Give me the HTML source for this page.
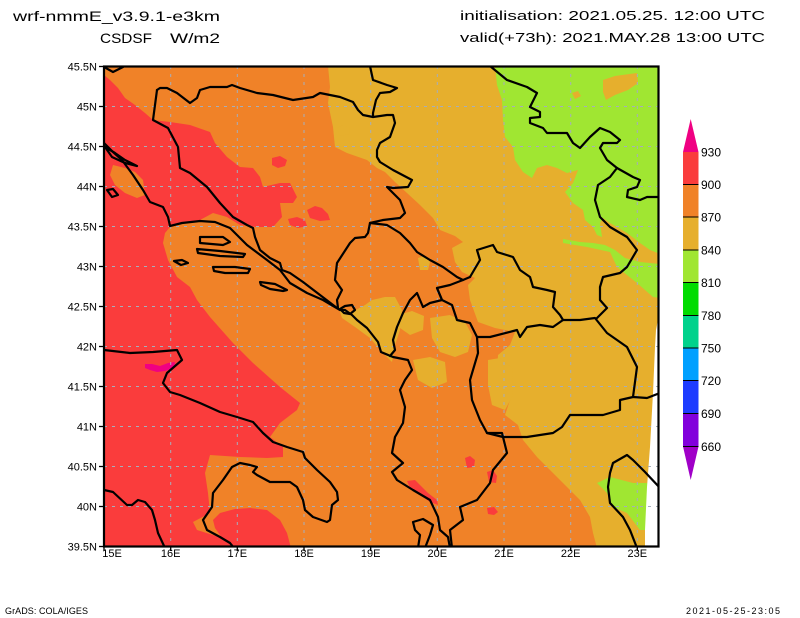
<!DOCTYPE html>
<html><head><meta charset="utf-8"><style>
html,body{margin:0;padding:0;background:#fff;}
svg{display:block;}
text{font-family:"Liberation Sans",Arial,sans-serif;fill:#000;}
</style></head><body>
<svg width="800" height="618" viewBox="0 0 800 618" xmlns="http://www.w3.org/2000/svg">
<defs><clipPath id="mc"><rect x="104" y="66.5" width="554.5" height="480"/></clipPath></defs>
<rect width="800" height="618" fill="#fff"/>

<!-- Titles -->
<text x="13" y="21" font-size="14" textLength="207" lengthAdjust="spacingAndGlyphs">wrf-nmmE_v3.9.1-e3km</text>
<text x="100" y="43" font-size="14" textLength="52" lengthAdjust="spacingAndGlyphs">CSDSF</text>
<text x="170" y="43" font-size="14" textLength="50" lengthAdjust="spacingAndGlyphs">W/m2</text>
<text x="460" y="20" font-size="13" textLength="305" lengthAdjust="spacingAndGlyphs">initialisation: 2021.05.25. 12:00 UTC</text>
<text x="460" y="42" font-size="13" textLength="305" lengthAdjust="spacingAndGlyphs">valid(+73h): 2021.MAY.28 13:00 UTC</text>

<g clip-path="url(#mc)">
<rect x="104" y="66" width="556" height="482" fill="#F08228"/>
<!-- red west -->
<polygon fill="#FA3C3C" points="104,75 110,80 118,88 125,98 135,105 145,113 153,120 170,122 190,125 210,132 215,143 227,157 240,167 253,168 260,177 263,187 280,183 290,183 297,197 293,203 280,203 282,217 273,227 257,227 240,225 227,217 213,213 200,220 180,223 170,227 165,233 163,243 168,260 177,277 190,287 197,300 210,317 233,343 253,363 280,387 300,403 297,410 280,423 270,437 283,447 283,457 267,458 240,457 210,455 205,473 208,493 210,513 193,522 197,530 213,535 222,538 215,528 213,520 220,513 235,509 250,508 267,510 280,520 287,533 291,548 104,548"/>
<polygon fill="#F08228" points="113,165 125,168 135,172 143,180 145,195 137,198 125,193 115,185 110,175"/>
<!-- red blobs north -->
<polygon fill="#FA3C3C" points="272,158 280,156 287,160 285,166 278,168 272,165"/>
<polygon fill="#FA3C3C" points="307,210 315,206 322,208 328,214 330,220 320,221 310,218"/>
<polygon fill="#FA3C3C" points="288,219 297,217 305,220 307,226 298,228 290,225"/>
<!-- magenta blob -->
<polygon fill="#F00082" points="145,364 152,364 160,366 168,363 175,362 174,368 165,371 157,372 150,370 145,368"/>
<!-- yellow main -->
<polygon fill="#E6AF2D" points="328,66 660,66 660,548 597,548 593,533 590,517 580,500 567,487 553,473 537,457 523,440 518,425 505,415 510,400 505,390 497,375 498,355 510,345 515,332 495,328 478,322 470,300 468,285 475,278 462,272 455,262 452,248 463,242 455,236 440,230 433,218 420,205 407,193 395,182 385,172 377,168 367,160 347,153 335,147 333,127 328,103 330,87"/>
<polygon fill="#E6AF2D" points="337,128 343,125 350,128 349,134 340,136"/>
<polygon fill="#E6AF2D" points="338,306 352,312 365,305 372,300 385,297 395,297 402,310 400,330 395,345 392,362 382,352 370,338 355,327 342,318"/>
<polygon fill="#E6AF2D" points="430,318 450,315 465,322 472,335 468,352 455,357 440,352 432,338"/>
<polygon fill="#E6AF2D" points="413,360 430,357 445,362 447,382 432,388 418,380"/>
<polygon fill="#E6AF2D" points="398,315 412,311 424,316 423,330 410,335 400,328"/>
<polygon fill="#E6AF2D" points="488,360 500,358 512,368 513,395 505,410 492,405 488,385"/>
<polygon fill="#E6AF2D" points="418,258 425,256 430,262 428,270 420,270"/>
<!-- green -->
<polygon fill="#A0E632" points="495,66 660,66 660,254 650,250 640,243 627,233 610,223 603,218 600,223 602,237 597,235 593,227 585,220 583,210 573,203 565,192 573,183 578,170 567,173 557,168 547,165 537,168 532,178 523,172 515,160 513,147 505,137 503,120 502,100 497,85"/>
<polygon fill="#A0E632" points="563,239 580,242 593,243 605,245 615,250 625,258 640,262 660,264 660,298 653,297 637,283 617,267 610,252 587,247 563,243"/>
<polygon fill="#E6AF2D" points="603,80 615,76 637,73 638,83 628,90 615,95 606,100 603,92"/>
<polygon fill="#E6AF2D" points="572,93 578,91 581,96 575,99"/>
<polygon fill="#A0E632" points="597,483 610,477 633,483 650,483 650,530 640,530 627,513 613,507 607,493"/>
<!-- red blobs albania -->
<polygon fill="#FA3C3C" points="465,458 470,456 475,460 474,467 467,468"/>
<polygon fill="#FA3C3C" points="487,472 493,470 497,476 496,483 489,482"/>
<polygon fill="#FA3C3C" points="407,481 415,480 422,487 428,493 437,500 438,505 430,502 420,495 410,488"/>
<polygon fill="#FA3C3C" points="487,508 494,507 498,512 494,515 488,514"/>
<!-- white no-data edge -->
<polygon fill="#FFFFFF" points="660,310 656,330 655,347 653,393 650,447 647,487 645,530 645,548 660,548"/>

<!-- grid -->
<g stroke="#A6AEBB" stroke-width="1" stroke-dasharray="3 5" fill="none">
<line x1="170.7" y1="66" x2="170.7" y2="547"/>
<line x1="237.3" y1="66" x2="237.3" y2="547"/>
<line x1="304" y1="66" x2="304" y2="547"/>
<line x1="370.7" y1="66" x2="370.7" y2="547"/>
<line x1="437.3" y1="66" x2="437.3" y2="547"/>
<line x1="504" y1="66" x2="504" y2="547"/>
<line x1="570.7" y1="66" x2="570.7" y2="547"/>
<line x1="637.3" y1="66" x2="637.3" y2="547"/>
<line x1="104" y1="106.5" x2="659" y2="106.5"/>
<line x1="104" y1="146.5" x2="659" y2="146.5"/>
<line x1="104" y1="186.5" x2="659" y2="186.5"/>
<line x1="104" y1="226.5" x2="659" y2="226.5"/>
<line x1="104" y1="266.5" x2="659" y2="266.5"/>
<line x1="104" y1="306.5" x2="659" y2="306.5"/>
<line x1="104" y1="346.5" x2="659" y2="346.5"/>
<line x1="104" y1="386.5" x2="659" y2="386.5"/>
<line x1="104" y1="426.5" x2="659" y2="426.5"/>
<line x1="104" y1="466.5" x2="659" y2="466.5"/>
<line x1="104" y1="506.5" x2="659" y2="506.5"/>
</g>

<!-- coastlines & borders -->
<g stroke="#000" stroke-width="2.2" fill="none" stroke-linejoin="round" stroke-linecap="round">
<polyline points="104,350 130,353 153,352 177,350 182,360 167,373 163,383 170,392 180,395 200,403 220,412 237,417 253,422 263,433 273,442 287,447 303,452 305,458 317,470 330,482 337,492 338,500 332,505 330,520 327,522 313,517 305,510 303,500 297,487 290,482 270,482 257,475 253,472 257,467 250,465 240,463 232,467 223,480 213,493 212,507 203,520 207,530 220,537 230,543 234,548"/>
<polyline points="104,490 113,492 127,505 132,505 138,500 145,502 152,510 155,520 158,533 165,548"/>
<polyline points="104,67 113,72 123,67"/>
<polyline points="104,143 113,152 122,160 133,175 143,190 150,202 163,207 168,217 170,226 182,223 200,221 215,222 230,228 247,245 267,260 280,270 290,283 307,293 323,300 340,310 345,310 352,315 357,320 367,328 378,342 381,352 393,357 408,360 412,370 405,380 400,390 405,407 403,423 395,437 392,453 403,463 392,472 397,480 413,490 430,500 438,517 440,530 448,537 450,548"/>
<polyline points="157,90 153,120 168,128 178,147 180,168 190,173 207,187 220,203 233,217 247,225 253,228 255,237 260,250 270,258 280,263 282,270 290,273 303,282 320,295 337,308"/>
<polyline points="157,90 160,88 167,88 177,93 190,103 197,98 200,90 210,87 227,87 232,85 240,88 257,93 273,95 293,100 313,97 320,93 330,95 340,97 353,102 358,110 363,115 373,117 387,115 393,115 395,123 390,137 380,143 377,150 377,157 380,162 393,170 412,180 408,187 393,188 387,187 400,200 405,213 400,218 383,220 370,223 368,233 365,237 355,238 350,243 337,263 335,280 342,290 337,300 338,308"/>
<polyline points="370,66 373,80 387,85 397,88 390,92 380,93 376,100 373,113 373,117"/>
<polyline points="370,223 387,225 400,233 410,243 417,252 430,260 443,267 457,277 463,280 470,277"/>
<polyline points="463,280 450,285 437,288 442,300 430,303 423,307 417,293 410,300 403,313 397,327 393,340 395,350 390,356"/>
<polyline points="437,288 442,300 452,305 457,320 470,323 477,337 478,353 470,380 472,400 480,420 487,433 502,433 507,453 493,470 490,483 477,500 460,507 463,520 450,530 452,548"/>
<polyline points="470,277 480,260 477,250 493,245 497,252 513,257 520,270 530,277 533,287 547,290 555,292 553,307 560,315 563,320"/>
<polyline points="477,337 490,337 517,330 520,337 527,327 540,325 553,327 563,320 580,320 595,318 607,333 627,347 637,367 633,397 620,400 620,410 603,415 587,415 570,415 562,427 553,433 540,435 527,437 503,437 487,433"/>
<polyline points="617,168 610,177 598,185 595,200 600,217 610,227 627,237 637,250 627,267 620,273 603,277 600,287 600,300 607,308 597,318"/>
<polyline points="490,66 507,80 527,87 537,93 530,107 540,112 540,117 530,118 530,123 543,128 547,133 567,133 573,143 580,148 590,137 600,128 610,132 620,140 617,143 603,143 600,148 607,160 617,168 633,177 640,180 637,187 628,190 627,197 640,200 647,197 660,197"/>
<polyline points="633,397 647,398 660,393"/>
<polyline points="660,488 645,472 633,460 627,455 613,463 610,473 608,487 610,503 623,517 630,530 637,548"/>
<polygon points="413,522 423,519 433,525 430,535 425,548 418,548 420,535 415,530"/>
<polygon points="105,147 115,153 125,160 137,166 125,163 112,157"/>
<polygon points="107,190 113,189 118,195 112,197"/>
<polygon points="200,237 223,237 230,242 223,245 200,243"/>
<polygon points="197,249 220,251 245,254 243,257 220,256 198,253"/>
<polygon points="213,267 235,267 250,269 248,273 225,273 214,271"/>
<polygon points="260,282 275,284 287,290 283,291 270,289 261,285"/>
<polygon points="174,261 182,260 188,263 181,265"/>
<polygon points="340,309 345,306 352,305 355,310 350,314 344,313"/>
</g>
</g>

<!-- frame -->
<rect x="104" y="66.5" width="554.5" height="480" fill="none" stroke="#000" stroke-width="2.2"/>
<!-- ticks -->
<g stroke="#000" stroke-width="1.3">
<line x1="99" y1="66.5" x2="104" y2="66.5"/><line x1="99" y1="106.5" x2="104" y2="106.5"/>
<line x1="99" y1="146.5" x2="104" y2="146.5"/><line x1="99" y1="186.5" x2="104" y2="186.5"/>
<line x1="99" y1="226.5" x2="104" y2="226.5"/><line x1="99" y1="266.5" x2="104" y2="266.5"/>
<line x1="99" y1="306.5" x2="104" y2="306.5"/><line x1="99" y1="346.5" x2="104" y2="346.5"/>
<line x1="99" y1="386.5" x2="104" y2="386.5"/><line x1="99" y1="426.5" x2="104" y2="426.5"/>
<line x1="99" y1="466.5" x2="104" y2="466.5"/><line x1="99" y1="506.5" x2="104" y2="506.5"/>
<line x1="99" y1="546.5" x2="104" y2="546.5"/>
<line x1="104" y1="546.5" x2="104" y2="551"/><line x1="170.7" y1="546.5" x2="170.7" y2="551"/>
<line x1="237.3" y1="546.5" x2="237.3" y2="551"/><line x1="304" y1="546.5" x2="304" y2="551"/>
<line x1="370.7" y1="546.5" x2="370.7" y2="551"/><line x1="437.3" y1="546.5" x2="437.3" y2="551"/>
<line x1="504" y1="546.5" x2="504" y2="551"/><line x1="570.7" y1="546.5" x2="570.7" y2="551"/>
<line x1="637.3" y1="546.5" x2="637.3" y2="551"/>
</g>
<!-- lat labels -->
<g font-size="11" text-anchor="end">
<text x="97" y="70.5">45.5N</text>
<text x="97" y="110.5">45N</text>
<text x="97" y="150.5">44.5N</text>
<text x="97" y="190.5">44N</text>
<text x="97" y="230.5">43.5N</text>
<text x="97" y="270.5">43N</text>
<text x="97" y="310.5">42.5N</text>
<text x="97" y="350.5">42N</text>
<text x="97" y="390.5">41.5N</text>
<text x="97" y="430.5">41N</text>
<text x="97" y="470.5">40.5N</text>
<text x="97" y="510.5">40N</text>
<text x="97" y="550.5">39.5N</text>
</g>
<!-- lon labels -->
<g font-size="11" text-anchor="middle">
<text x="112" y="557">15E</text>
<text x="170.7" y="557">16E</text>
<text x="237.3" y="557">17E</text>
<text x="304" y="557">18E</text>
<text x="370.7" y="557">19E</text>
<text x="437.3" y="557">20E</text>
<text x="504" y="557">21E</text>
<text x="570.7" y="557">22E</text>
<text x="637.3" y="557">23E</text>
</g>

<!-- colorbar -->
<polygon points="690.7,119 683,152 698.5,152" fill="#F00082"/>
<rect x="683" y="152" width="15.5" height="32.5" fill="#FA3C3C"/>
<rect x="683" y="184.5" width="15.5" height="32.5" fill="#F08228"/>
<rect x="683" y="217" width="15.5" height="33" fill="#E6AF2D"/>
<rect x="683" y="250" width="15.5" height="32.5" fill="#A0E632"/>
<rect x="683" y="282.5" width="15.5" height="33" fill="#00DC00"/>
<rect x="683" y="315.5" width="15.5" height="32.5" fill="#00D28C"/>
<rect x="683" y="348" width="15.5" height="32.5" fill="#00A0FF"/>
<rect x="683" y="380.5" width="15.5" height="33" fill="#1E3CFF"/>
<rect x="683" y="413.5" width="15.5" height="33" fill="#8200DC"/>
<polygon points="683,446.5 698.5,446.5 690.7,480" fill="#A000C8"/>
<g stroke="#000" stroke-width="1">
<line x1="683" y1="184.5" x2="698.5" y2="184.5"/>
<line x1="683" y1="217" x2="698.5" y2="217"/>
<line x1="683" y1="250" x2="698.5" y2="250"/>
<line x1="683" y1="282.5" x2="698.5" y2="282.5"/>
<line x1="683" y1="315.5" x2="698.5" y2="315.5"/>
<line x1="683" y1="348" x2="698.5" y2="348"/>
<line x1="683" y1="380.5" x2="698.5" y2="380.5"/>
<line x1="683" y1="413.5" x2="698.5" y2="413.5"/>
<line x1="683" y1="446.5" x2="698.5" y2="446.5"/>
</g>
<g font-size="12">
<text x="701" y="156.5">930</text>
<text x="701" y="189">900</text>
<text x="701" y="221.5">870</text>
<text x="701" y="254.5">840</text>
<text x="701" y="287">810</text>
<text x="701" y="320">780</text>
<text x="701" y="352.5">750</text>
<text x="701" y="385">720</text>
<text x="701" y="418">690</text>
<text x="701" y="451">660</text>
</g>

<!-- footer -->
<text x="5" y="614" font-size="9" textLength="83" lengthAdjust="spacing">GrADS: COLA/IGES</text>
<text x="686" y="614" font-size="9" textLength="94" lengthAdjust="spacing">2021-05-25-23:05</text>
</svg>
</body></html>
